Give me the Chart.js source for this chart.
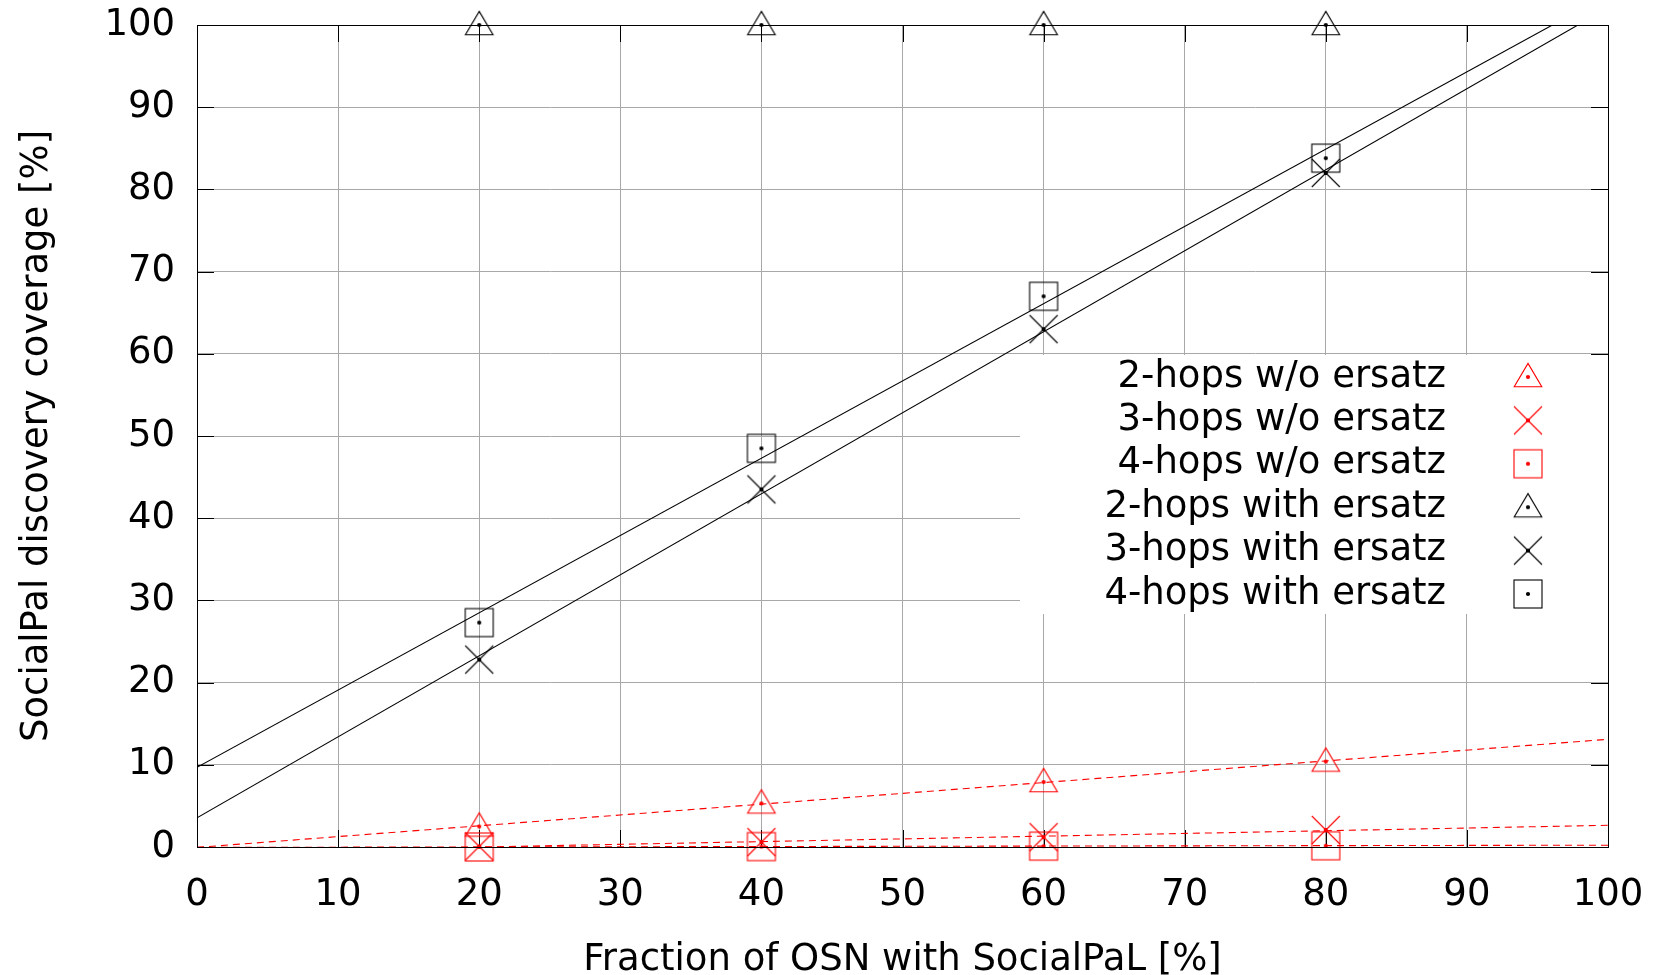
<!DOCTYPE html>
<html>
<head>
<meta charset="utf-8">
<script src="https://cdn.jsdelivr.net/npm/chart.js@4/dist/chart.umd.min.js"></script>
<style>
  html, body { margin: 0; padding: 0; background: #ffffff; }
  #wrap { width: 1663px; height: 975px; }
</style>
</head>
<body>
<div id="wrap"><canvas id="c" width="1663" height="975"></canvas></div>
<script>
// ---- data ----
const xValues = [20, 40, 60, 80];
const hops2Without = [2.5, 5.3, 7.9, 10.4];
const hops3Without = [0.07, 0.6, 1.2, 2.07];
const hops4Without = [0.0, 0.05, 0.1, 0.15];
const hops2With = [100, 100, 100, 100];
const hops3With = [22.8, 43.5, 63.0, 82.0];
const hops4With = [27.3, 48.5, 67.0, 83.8];

// fitted lines: value at x = 0 and at x = 100
const fitX = [0, 100];
const fit2Without = [-0.05, 13.1];
const fit3Without = [-0.665, 2.64];
const fit4Without = [-0.05, 0.22];
const fit3With = [3.55, 102.1];
const fit4With = [9.7, 103.7];

const xTicks = [0, 10, 20, 30, 40, 50, 60, 70, 80, 90, 100];
const yTicks = [0, 10, 20, 30, 40, 50, 60, 70, 80, 90, 100];

const legendLabels = [
  '2-hops w/o ersatz', '3-hops w/o ersatz', '4-hops w/o ersatz',
  '2-hops with ersatz', '3-hops with ersatz', '4-hops with ersatz'
];

const RED = '#ff0000';
const BLACK = '#000000';
const FONT = '"DejaVu Sans", sans-serif';

// ---- marker images ----
function makeMarker(type, color) {
  const s = 34, c = s / 2;
  const cv = document.createElement('canvas');
  cv.width = s; cv.height = s;
  const g = cv.getContext('2d');
  g.strokeStyle = color; g.fillStyle = color; g.lineWidth = 1.1;
  if (type === 'triangle') {
    g.beginPath();
    g.moveTo(c, c - 13.6);
    g.lineTo(c + 13.8, c + 9.7);
    g.lineTo(c - 13.8, c + 9.7);
    g.closePath();
    g.stroke();
    g.beginPath(); g.arc(c, c, 2.1, 0, Math.PI * 2); g.fill();
  } else if (type === 'cross') {
    g.beginPath();
    g.moveTo(c - 14, c - 14); g.lineTo(c + 14, c + 14);
    g.moveTo(c + 14, c - 14); g.lineTo(c - 14, c + 14);
    g.stroke();
    g.fillRect(c - 2, c - 2, 4, 4);
  } else if (type === 'square') {
    g.strokeRect(c - 14, c - 14, 28, 28);
    g.beginPath(); g.arc(c, c, 2.1, 0, Math.PI * 2); g.fill();
  }
  return cv;
}

const markers = [
  makeMarker('triangle', RED), makeMarker('cross', RED), makeMarker('square', RED),
  makeMarker('triangle', BLACK), makeMarker('cross', BLACK), makeMarker('square', BLACK)
];

const pts = (ys) => xValues.map((x, i) => ({ x: x, y: ys[i] }));
const fitPts = (ys) => fitX.map((x, i) => ({ x: x, y: ys[i] }));

function fitDataset(ys, color, dashed) {
  return {
    label: '_fit', data: fitPts(ys), showLine: true, pointRadius: 0,
    pointHoverRadius: 0, borderColor: color, borderWidth: 1.1,
    borderDash: dashed ? [7, 5] : [], fill: false, tension: 0
  };
}
function markerDataset(label, ys, marker) {
  return {
    label: label, data: pts(ys), showLine: false, pointStyle: marker,
    pointRadius: 14, pointHoverRadius: 14, borderWidth: 0, clip: false,
    backgroundColor: 'transparent', borderColor: 'transparent'
  };
}

const datasets = [
  fitDataset(fit2Without, RED, true),
  fitDataset(fit3Without, RED, true),
  fitDataset(fit4Without, RED, true),
  fitDataset(fit3With, BLACK, false),
  fitDataset(fit4With, BLACK, false),
  markerDataset(legendLabels[0], hops2Without, markers[0]),
  markerDataset(legendLabels[1], hops3Without, markers[1]),
  markerDataset(legendLabels[2], hops4Without, markers[2]),
  markerDataset(legendLabels[3], hops2With, markers[3]),
  markerDataset(legendLabels[4], hops3With, markers[4]),
  markerDataset(legendLabels[5], hops4With, markers[5])
];

// inner ticks (gnuplot style) + mirrored on top / right
const innerTicks = {
  id: 'innerTicks',
  beforeDatasetsDraw(chart) {
    const { ctx, chartArea: a, scales } = chart;
    const L = 17;
    ctx.save();
    ctx.strokeStyle = '#000'; ctx.lineWidth = 1;
    ctx.beginPath();
    xTicks.forEach(v => {
      const px = Math.round(scales.x.getPixelForValue(v)) + 0.5;
      ctx.moveTo(px, a.bottom); ctx.lineTo(px, a.bottom - L);
      ctx.moveTo(px, a.top); ctx.lineTo(px, a.top + L);
    });
    yTicks.forEach(v => {
      const py = Math.round(scales.y.getPixelForValue(v)) + 0.5;
      ctx.moveTo(a.left, py); ctx.lineTo(a.left + L, py);
      ctx.moveTo(a.right, py); ctx.lineTo(a.right - L, py);
    });
    ctx.stroke();
    ctx.restore();
  }
};

// opaque key box + frame
const keyAndFrame = {
  id: 'keyAndFrame',
  afterDraw(chart) {
    const { ctx, chartArea: a } = chart;
    ctx.save();
    const boxL = 1020, boxT = 355, boxB = 614;
    ctx.fillStyle = '#ffffff';
    ctx.fillRect(boxL, boxT, a.right - boxL, boxB - boxT);
    const textRight = 1446, markX = 1528, row0 = 377, rowH = 43.4;
    ctx.font = '37px ' + FONT;
    ctx.fillStyle = '#000';
    ctx.textAlign = 'right';
    ctx.textBaseline = 'middle';
    legendLabels.forEach((lab, i) => {
      const y = row0 + i * rowH;
      ctx.fillText(lab, textRight, y);
      const m = markers[i];
      ctx.drawImage(m, markX - m.width / 2, y - m.height / 2);
    });
    // frame
    ctx.strokeStyle = '#000'; ctx.lineWidth = 1;
    ctx.strokeRect(Math.round(a.left) + 0.5, Math.round(a.top) + 0.5,
      Math.round(a.right - a.left), Math.round(a.bottom - a.top));
    ctx.restore();
  }
};

new Chart(document.getElementById('c'), {
  type: 'scatter',
  data: { datasets: datasets },
  options: {
    responsive: false,
    animation: false,
    events: [],
    layout: { padding: { top: 25, right: 55, left: 0, bottom: 0 } },
    plugins: { legend: { display: false }, tooltip: { enabled: false } },
    scales: {
      x: {
        type: 'linear', min: 0, max: 100,
        afterBuildTicks: (s) => { s.ticks = xTicks.map(v => ({ value: v })); },
        afterFit: (s) => { s.height = 128; s.paddingLeft = 0; s.paddingRight = 0; },
        grid: { color: '#a8a8a8', lineWidth: 1, drawTicks: false },
        border: { display: true, color: '#000', width: 1 },
        ticks: { color: '#000', font: { family: FONT, size: 37 }, padding: 26, maxRotation: 0 },
        title: {
          display: true, text: 'Fraction of OSN with SocialPaL [%]', color: '#000',
          font: { family: FONT, size: 37, lineHeight: 0.8 }, padding: { top: 0, bottom: 0 }
        }
      },
      y: {
        type: 'linear', min: 0, max: 100,
        afterBuildTicks: (s) => { s.ticks = yTicks.map(v => ({ value: v })); },
        afterFit: (s) => { s.width = 197; s.paddingTop = 0; s.paddingBottom = 0; },
        grid: { color: '#a8a8a8', lineWidth: 1, drawTicks: false },
        border: { display: true, color: '#000', width: 1 },
        ticks: { color: '#000', font: { family: FONT, size: 37 }, padding: 22 },
        title: {
          display: true, text: 'SocialPal discovery coverage [%]', color: '#000',
          font: { family: FONT, size: 37, lineHeight: 1 }, padding: { top: 19, bottom: 0 }
        }
      }
    }
  },
  plugins: [innerTicks, keyAndFrame]
});
</script>
</body>
</html>
